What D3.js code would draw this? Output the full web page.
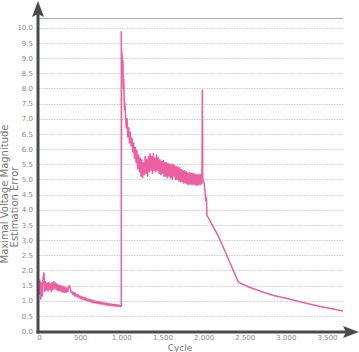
<!DOCTYPE html>
<html><head><meta charset="utf-8">
<script src="https://cdn.jsdelivr.net/npm/d3@7"></script>
<style>html,body{margin:0;padding:0;background:#fff;}svg{display:block;}</style>
</head><body>
<svg id="chart" width="359" height="352"></svg>
<script>
// ---------- DATA ----------
const xTicks = [0, 500, 1000, 1500, 2000, 2500, 3000, 3500];
const yTicks = [0,0.5,1,1.5,2,2.5,3,3.5,4,4.5,5,5.5,6,6.5,7,7.5,8,8.5,9,9.5,10];
// Phase 1: cycles 0..1000 (every 10 cycles)
const phase1Start = 0, phase1Step = 10;
const phase1Values = [
 1.20,1.68,1.05,1.60,1.15,1.75,1.92,1.30,1.62,1.35,
 1.58,1.32,1.60,1.38,1.56,1.30,1.60,1.36,1.62,1.40,
 1.58,1.36,1.55,1.32,1.52,1.34,1.50,1.30,1.48,1.28,
 1.46,1.28,1.44,1.27,1.42,1.30,1.46,1.50,1.40,1.28,
 1.30,1.20,1.28,1.16,1.25,1.14,1.21,1.12,1.19,1.10,
 1.15,1.06,1.14,1.05,1.11,1.03,1.10,1.01,1.07,1.00,
 1.05,0.97,1.04,0.96,1.02,0.94,1.01,0.93,0.99,0.92,
 0.98,0.91,0.97,0.90,0.96,0.89,0.95,0.88,0.94,0.88,
 0.93,0.86,0.92,0.85,0.91,0.85,0.90,0.84,0.89,0.83,
 0.88,0.83,0.88,0.82,0.87,0.81,0.86,0.81,0.85,0.80,
 0.82];
// Phase 2 reset transient (irregular cycles)
const phase2EarlyCycles = [1000,1002,1004,1008,1012,1016,1020,1025,1030,1035,1040,1045];
const phase2EarlyValues = [9.87,5.60,9.25,9.00,9.10,8.60,8.90,8.00,8.30,7.60,7.30,7.50];
// Phase 2 plateau: cycles 1050..1980 (every 10 cycles)
const phase2Start = 1050, phase2Step = 10;
const phase2Values = [
 7.20,6.70,7.00,6.40,6.70,6.20,6.55,6.10,6.35,5.90,
 6.20,5.70,6.05,5.55,5.95,5.35,5.80,5.25,5.70,5.10,
 5.65,5.05,5.55,5.15,5.75,5.20,5.65,5.10,5.75,5.25,
 5.85,5.30,5.75,5.20,5.85,5.30,5.70,5.25,5.80,5.30,
 5.70,5.20,5.65,5.15,5.60,5.20,5.62,5.10,5.55,5.10,
 5.55,5.05,5.52,5.10,5.50,5.05,5.48,5.00,5.50,5.10,
 5.45,5.00,5.42,5.00,5.40,4.95,5.38,4.92,5.32,4.92,
 5.30,4.88,5.28,4.88,5.25,4.85,5.22,4.82,5.22,4.85,
 5.20,4.82,5.20,4.84,5.18,4.82,5.16,4.80,5.15,4.82,
 5.15,4.82,5.18,4.86];
// Phase 3: spike then decay (irregular cycles)
const phase3Cycles = [1985,1990,2000,2010,2020,2025,2035,2040,2179,2300,2422,2550,2700,2850,3029,3230,3435,3694];
const phase3Values = [7.95,5.00,4.95,4.80,4.50,4.30,4.40,3.82,3.13,2.38,1.61,1.45,1.30,1.17,1.06,0.92,0.80,0.66];

// ---------- BUILD SERIES ----------
const series = [];
phase1Values.forEach((v,i)=>series.push({c: phase1Start + i*phase1Step, v}));
phase2EarlyCycles.forEach((c,i)=>series.push({c, v: phase2EarlyValues[i]}));
phase2Values.forEach((v,i)=>series.push({c: phase2Start + i*phase2Step, v}));
phase3Cycles.forEach((c,i)=>series.push({c, v: phase3Values[i]}));

// ---------- CHART ----------
const svg = d3.select("#chart");
const x = d3.scaleLinear().domain([0, 3694]).range([39, 343]);
const y = d3.scaleLinear().domain([0, 10]).range([331, 27.7]);
const fontTick = "DejaVu Sans, sans-serif";

// gridlines
svg.append("g").selectAll("line").data(yTicks).join("line")
  .attr("x1", x(0)).attr("x2", x(3694))
  .attr("y1", d=>Math.round(y(d))+0.5).attr("y2", d=>Math.round(y(d))+0.5)
  .attr("stroke", "#cfcfcf").attr("stroke-width", 1).attr("stroke-dasharray", "1.5,1");

// top border line
svg.append("line").attr("x1", 38).attr("x2", x(3694))
  .attr("y1", Math.round(y(10.32))+0.5).attr("y2", Math.round(y(10.32))+0.5)
  .attr("stroke", "#aaa").attr("stroke-width", 1);

// data line
svg.append("path").datum(series)
  .attr("fill", "none").attr("stroke", "#ec5fa0").attr("stroke-width", 1.5)
  .attr("stroke-linejoin", "round")
  .attr("d", d3.line().x(d=>x(d.c)).y(d=>y(d.v)));

// axes via d3 axis (labels only)
const yAxis = d3.axisLeft(y).tickValues(yTicks).tickFormat(d3.format(".1f")).tickSize(0).tickPadding(5);
const gy = svg.append("g").attr("transform", "translate(38,0)").call(yAxis);
gy.select(".domain").remove();
gy.selectAll("text").attr("fill", "#888").style("font-family", fontTick).style("font-size", "7px");

const xAxis = d3.axisBottom(x).tickValues(xTicks).tickFormat(d3.format(",")).tickSize(0).tickPadding(3);
const gx = svg.append("g").attr("transform", "translate(0,332)").call(xAxis);
gx.select(".domain").remove();
gx.selectAll("text").attr("fill", "#888").style("font-family", fontTick).style("font-size", "7px");

// axis lines with arrows
const axisColor = "#4a4a4a";
svg.append("line").attr("x1", 38).attr("x2", 38).attr("y1", 333.5).attr("y2", 10)
  .attr("stroke", axisColor).attr("stroke-width", 3);
svg.append("line").attr("x1", 36.5).attr("x2", 350).attr("y1", 332).attr("y2", 332)
  .attr("stroke", axisColor).attr("stroke-width", 3);
svg.append("path").attr("d", "M38,1 L44,17 L38,14 L32,17 Z").attr("fill", axisColor);
svg.append("path").attr("d", "M359,332 L343,326 L346,332 L343,338 Z").attr("fill", axisColor);

// titles
svg.append("text").attr("x", 180).attr("y", 350.5).attr("text-anchor", "middle")
  .attr("fill", "#777").style("font-family", fontTick).style("font-size", "9px").text("Cycle");
svg.append("text").attr("transform", "translate(8,194) rotate(-90)").attr("text-anchor", "middle")
  .attr("fill", "#777").style("font-family", fontTick).style("font-size", "10px").text("Maximal Voltage Magnitude");
svg.append("text").attr("transform", "translate(18,207) rotate(-90)").attr("text-anchor", "middle")
  .attr("fill", "#777").style("font-family", fontTick).style("font-size", "10px").text("Estimation Error");
</script>
</body></html>
